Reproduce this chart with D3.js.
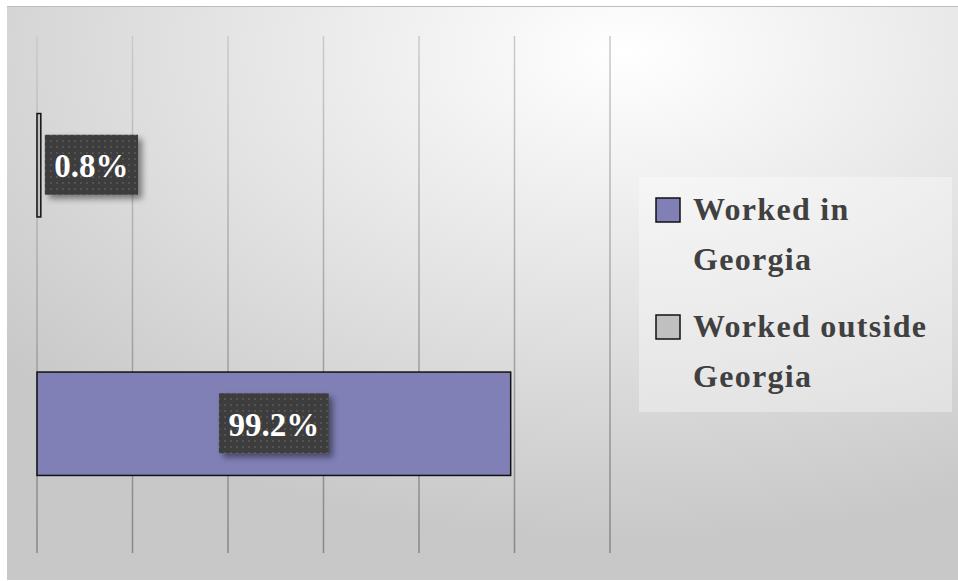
<!DOCTYPE html>
<html>
<head>
<meta charset="utf-8">
<script src="https://cdn.jsdelivr.net/npm/d3@7"></script>
<style>
  body { margin: 0; background: #ffffff; }
  svg { display: block; }
</style>
</head>
<body>
<div id="chart"></div>
<script>
const width = 958;
const height = 581;

// data
const series = ["Worked in Georgia", "Worked outside Georgia"];
const values = [99.2, 0.8];
const valueLabels = ["99.2%", "0.8%"];
const colors = ["#8080b6", "#c0c0c0"];
const legendLines = [["Worked in", "Georgia"], ["Worked outside", "Georgia"]];
const gridTicks = [0, 20, 40, 60, 80, 100, 120];

const plot = { left: 37, right: 610, top: 36, bottom: 553 };

const svg = d3.select("#chart")
    .append("svg")
    .attr("width", width)
    .attr("height", height);

const defs = svg.append("defs");

const bg = defs.append("radialGradient")
    .attr("id", "bg")
    .attr("cx", "0.65").attr("cy", "0.08")
    .attr("r", "0.85");
bg.append("stop").attr("offset", "0").attr("stop-color", "#ffffff");
bg.append("stop").attr("offset", "0.5").attr("stop-color", "#e4e4e4");
bg.append("stop").attr("offset", "1").attr("stop-color", "#c8c8c8");

const gridGrad = defs.append("linearGradient")
    .attr("id", "gridGrad")
    .attr("gradientUnits", "userSpaceOnUse")
    .attr("x1", 0).attr("y1", plot.top)
    .attr("x2", 0).attr("y2", plot.bottom);
gridGrad.append("stop").attr("offset", "0").attr("stop-color", "#cacaca");
gridGrad.append("stop").attr("offset", "1").attr("stop-color", "#868686");

const dots = defs.append("pattern")
    .attr("id", "dots")
    .attr("patternUnits", "userSpaceOnUse")
    .attr("width", 6).attr("height", 6);
dots.append("rect").attr("width", 6).attr("height", 6).attr("fill", "#3d3d3d");
dots.append("rect").attr("x", 2).attr("y", 2).attr("width", 2).attr("height", 2).attr("fill", "#525252");

const shadow = defs.append("filter")
    .attr("id", "shadow")
    .attr("x", "-20%").attr("y", "-20%")
    .attr("width", "150%").attr("height", "150%");
shadow.append("feDropShadow")
    .attr("dx", 4).attr("dy", 4)
    .attr("stdDeviation", 3)
    .attr("flood-color", "#000")
    .attr("flood-opacity", 0.45);

// chart area background + frame
svg.append("rect")
    .attr("x", 7).attr("y", 6)
    .attr("width", width - 7).attr("height", 574)
    .attr("fill", "url(#bg)");
svg.append("line")
    .attr("x1", 7).attr("x2", width)
    .attr("y1", 6.5).attr("y2", 6.5)
    .attr("stroke", "#bdbdbd");

const x = d3.scaleLinear()
    .domain([0, 120])
    .range([plot.left, plot.right]);

const y = d3.scaleBand()
    .domain(series.slice().reverse())
    .range([plot.top, plot.bottom])
    .paddingInner(0.6)
    .paddingOuter(0.3);

// vertical gridlines
svg.append("g")
    .selectAll("line")
    .data(gridTicks)
    .join("line")
    .attr("x1", d => x(d))
    .attr("x2", d => x(d))
    .attr("y1", plot.top)
    .attr("y2", plot.bottom)
    .attr("stroke", "url(#gridGrad)")
    .attr("stroke-width", 1.5);

const rows = series.map((s, i) => ({ name: s, value: values[i], label: valueLabels[i], color: colors[i] }));

// bars
svg.append("g")
    .selectAll("rect")
    .data(rows)
    .join("rect")
    .attr("x", x(0))
    .attr("y", d => y(d.name))
    .attr("width", d => x(d.value) - x(0))
    .attr("height", y.bandwidth())
    .attr("fill", d => d.color)
    .attr("stroke", "#111")
    .attr("stroke-width", 1.5);

// data labels
const labelGroups = svg.append("g")
    .selectAll("g")
    .data(rows)
    .join("g");

labelGroups.each(function(d) {
    const g = d3.select(this);
    const box = g.append("rect")
        .attr("fill", "url(#dots)")
        .attr("filter", "url(#shadow)");
    const t = g.append("text")
        .attr("text-anchor", "middle")
        .style("font-family", "'Liberation Serif', serif")
        .style("font-weight", "bold")
        .style("font-size", "33px")
        .style("fill", "#ffffff")
        .text(d.label);
    const tw = t.node().getComputedTextLength();
    const bw = tw + 19;
    const bh = 60;
    const barW = x(d.value) - x(0);
    const cy = y(d.name) + y.bandwidth() / 2;
    let cx = x(0) + barW / 2;
    if (barW < bw + 10) cx = x(d.value) + 4 + bw / 2;
    box.attr("x", cx - bw / 2).attr("y", cy - bh / 2 - 0.5)
        .attr("width", bw).attr("height", bh);
    t.attr("x", cx).attr("y", cy + 12);
});

// legend
const legend = svg.append("g");
legend.append("rect")
    .attr("x", 639).attr("y", 177)
    .attr("width", 313).attr("height", 235)
    .attr("fill", "#ffffff")
    .attr("fill-opacity", 0.35);

const items = legend.selectAll("g")
    .data(rows)
    .join("g")
    .attr("transform", (d, i) => `translate(656, ${198 + i * 117})`);

items.append("rect")
    .attr("width", 24).attr("height", 24)
    .attr("fill", d => d.color)
    .attr("stroke", "#111")
    .attr("stroke-width", 1.5);

items.append("text")
    .attr("x", 37)
    .style("font-family", "'Liberation Serif', serif")
    .style("font-weight", "bold")
    .style("font-size", "32px")
    .style("letter-spacing", "1.3px")
    .style("fill", "#404040")
    .selectAll("tspan")
    .data((d, i) => legendLines[i])
    .join("tspan")
    .attr("x", 37)
    .attr("y", (d, j) => 22 + j * 50)
    .text(d => d);
</script>
</body>
</html>
